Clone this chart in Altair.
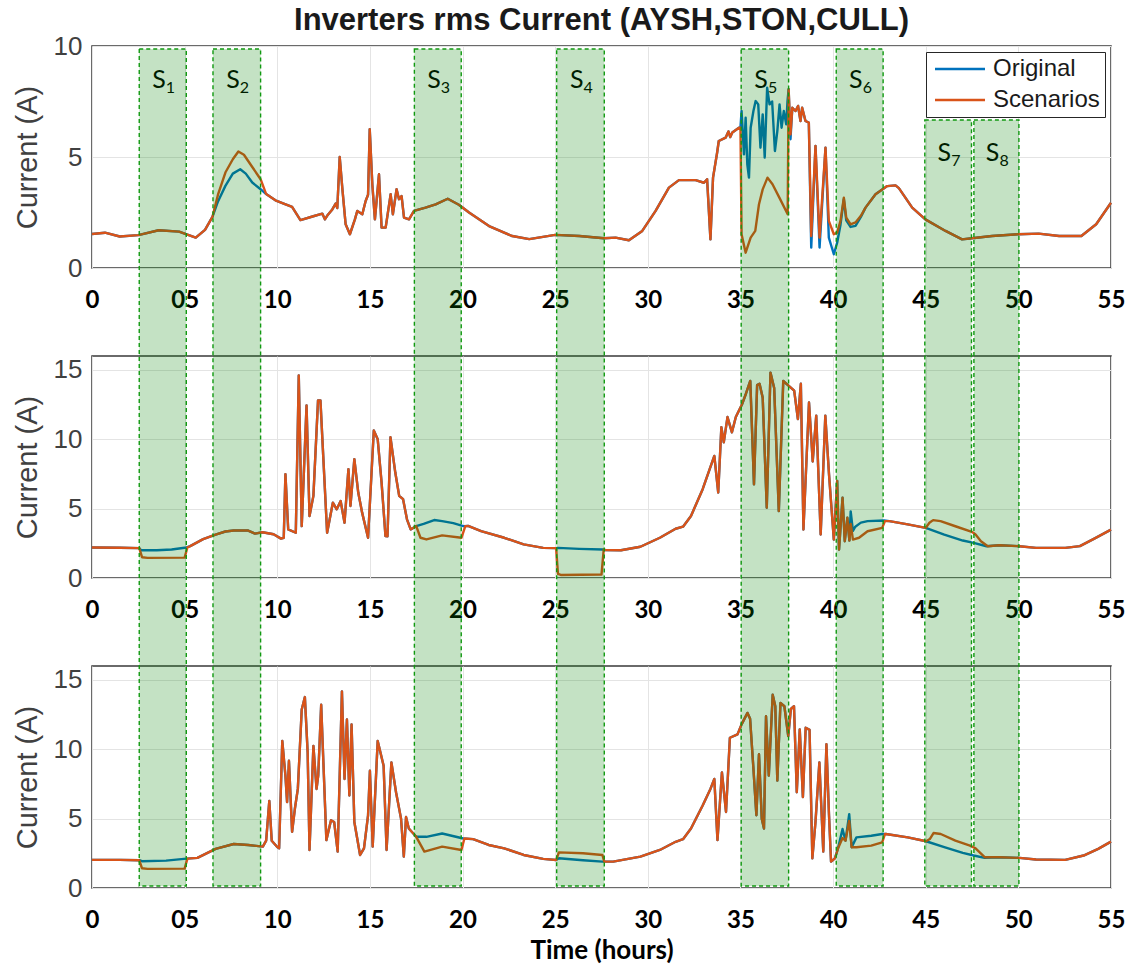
import altair as alt
import pandas as pd

# ---------------- data ----------------
X_TICKS = [0, 5, 10, 15, 20, 25, 30, 35, 40, 45, 50, 55]
SERIES = ["Original", "Scenarios"]
SERIES_COLORS = ["#0072BD", "#D95319"]

BAND_IDS = ["1", "2", "3", "4", "5", "6", "7", "8"]
BAND_START = [2.55, 6.53, 17.40, 25.08, 35.04, 40.17, 44.95, 47.60]
BAND_END = [5.09, 9.10, 19.93, 27.65, 37.60, 42.70, 47.47, 50.03]

# ---- AYSH (panel 1) ----
AYSH_COMMON_T = [0, 0.7, 1.5, 2.5, 3.6, 4.7, 5.6, 6.1, 6.5,
                 9.4, 9.9, 10.45, 10.8, 11.25, 11.9, 12.43, 12.57, 12.7, 12.97, 13.15, 13.24, 13.37, 13.51,
                 13.69, 13.92, 14.19, 14.32, 14.59, 14.77, 14.9, 14.99, 15.13, 15.27, 15.49, 15.63, 15.85,
                 16.12, 16.24, 16.44, 16.57, 16.71, 16.84, 17.11, 17.38, 18.0, 18.55, 19.2, 19.8, 20.35,
                 21.43, 22.68, 23.6, 25.0, 26.3, 27.63, 28.26, 28.98, 29.7, 30.42, 31.14, 31.68, 32.58,
                 33.03, 33.2, 33.38, 33.52, 33.74, 33.83, 34.2, 34.35, 34.45, 34.56, 34.92, 35.0,
                 41.75, 42.29, 42.92, 43.37, 43.55, 44.27, 44.98, 46.07, 46.96, 47.5, 48.58, 50.0, 51.1,
                 52.2, 53.4, 54.2, 55.0]
AYSH_COMMON_V = [1.53, 1.59, 1.42, 1.48, 1.70, 1.64, 1.37, 1.72, 2.30,
                 3.33, 3.05, 2.87, 2.75, 2.16, 2.32, 2.45, 2.19, 2.36, 2.64, 2.90, 2.70, 5.00, 3.60,
                 1.97, 1.52, 2.19, 2.57, 2.42, 3.02, 3.30, 6.25, 3.77, 2.19, 4.22, 1.82, 1.82,
                 3.32, 2.42, 3.55, 3.10, 3.24, 2.27, 2.19, 2.57, 2.72, 2.87, 3.12, 2.85, 2.50,
                 1.89, 1.44, 1.30, 1.49, 1.44, 1.34, 1.37, 1.25, 1.67, 2.57, 3.62, 3.96, 3.96,
                 3.84, 4.00, 1.29, 4.07, 5.19, 5.72, 5.87, 6.15, 5.90, 6.10, 6.32, 6.32,
                 2.72, 3.32, 3.69, 3.72, 3.60, 2.72, 2.19, 1.67, 1.29, 1.34, 1.44, 1.52, 1.55,
                 1.44, 1.44, 1.97, 2.94]
AYSH_ORIG_T = [6.8, 7.2, 7.6, 8.0, 8.3, 8.65, 9.1,
               35.06, 35.19, 35.28, 35.37, 35.46, 35.55, 35.7, 35.82, 35.96, 36.08, 36.2, 36.31, 36.44,
               36.57, 36.71, 36.86, 36.99, 37.11, 37.22, 37.34, 37.47, 37.54,
               37.6, 37.7, 37.8, 37.97, 38.11, 38.24, 38.33, 38.51, 38.69, 38.82, 39.05, 39.27, 39.59,
               39.77, 40.04, 40.22, 40.4, 40.58, 40.71, 40.94, 41.21, 41.5]
AYSH_ORIG_V = [3.0, 3.7, 4.25, 4.45, 4.25, 3.85, 3.55,
               7.07, 5.12, 6.77, 4.67, 4.07, 6.32, 7.07, 7.52, 7.37, 5.42, 6.92, 4.97, 8.12,
               7.37, 7.50, 5.27, 6.17, 7.37, 6.32, 7.07, 6.47, 7.52,
               8.05, 5.80, 7.22, 7.07, 7.30, 6.62, 7.22, 6.62, 6.55, 0.92, 5.50, 0.92, 5.42,
               1.37, 0.62, 1.14, 1.95, 3.10, 2.15, 1.85, 1.90, 2.30]
AYSH_SCEN_T = [6.8, 7.2, 7.6, 7.9, 8.2, 8.65, 9.1,
               35.06, 35.28, 35.55, 35.8, 36.0, 36.2, 36.46, 36.73, 37.1, 37.55,
               37.6, 37.7, 37.8, 37.97, 38.11, 38.24, 38.33, 38.51, 38.69, 38.82, 39.05, 39.27, 39.59,
               39.77, 40.04, 40.22, 40.4, 40.58, 40.71, 40.94, 41.21, 41.5]
AYSH_SCEN_V = [3.3, 4.3, 4.9, 5.25, 5.1, 4.55, 4.0,
               1.52, 0.69, 1.37, 1.67, 2.87, 3.54, 4.07, 3.77, 3.17, 2.42,
               8.05, 6.02, 7.22, 7.07, 7.30, 6.62, 7.22, 6.62, 6.55, 1.44, 5.50, 1.37, 5.42,
               2.12, 1.52, 1.59, 2.12, 3.17, 2.27, 1.97, 2.05, 2.35]

# ---- STON (panel 2) ----
STON_COMMON_T = [0, 1.5, 2.55,
                 5.3, 6.0, 6.67, 7.2, 7.65, 8.43, 8.8, 9.2, 9.8, 10.2, 10.35, 10.44, 10.59, 11.0, 11.16,
                 11.32, 11.58, 11.74, 11.95, 12.2, 12.33, 12.48, 12.69, 13.0, 13.21, 13.42, 13.63, 13.84,
                 13.95, 14.16, 14.37, 14.58, 14.9, 15.21, 15.42, 15.63, 15.84, 15.95, 16.11, 16.37, 16.58,
                 16.79, 17.0, 17.2, 17.5,
                 20.3, 21.0, 22.25, 23.3, 24.35, 25.05,
                 27.7, 28.55, 29.6, 30.65, 31.5, 31.9, 32.33, 32.96, 33.59, 33.8, 33.97, 34.1, 34.3, 34.54,
                 34.75, 35.08, 35.3, 35.53, 35.73, 35.9, 36.03, 36.2, 36.42, 36.62, 36.82, 37.07, 37.31,
                 37.61, 37.9, 38.1, 38.26, 38.4, 38.7, 38.9, 39.09, 39.33, 39.58, 39.78, 40.04, 40.22,
                 40.32, 40.51, 40.63, 40.77, 40.88,
                 43.04, 44.03, 45.0,
                 48.97, 50.06, 50.95, 52.53, 53.32, 54.1, 55.0]
STON_COMMON_V = [2.2, 2.18, 2.15,
                 2.3, 2.8, 3.13, 3.35, 3.42, 3.42, 3.2, 3.3, 3.15, 2.84, 2.9, 7.49, 3.5, 3.26, 14.6,
                 3.74, 12.44, 4.47, 5.92, 12.8, 12.8, 8.8, 3.26, 5.43, 4.95, 5.55, 3.98, 7.85,
                 5.19, 8.57, 6.16, 4.71, 2.9, 10.63, 10.0, 6.88, 3.02, 3.0, 10.14, 7.6, 5.92,
                 5.68, 4.23, 3.5, 3.74,
                 3.75, 3.38, 2.9, 2.42, 2.17, 2.15,
                 2.02, 2.0, 2.25, 2.9, 3.55, 3.7, 4.47, 6.4, 8.8, 6.16, 10.87, 9.78, 11.6, 10.5,
                 11.6, 12.5, 13.3, 14.2, 6.75, 13.9, 14.0, 13.0, 5.06, 14.8, 13.7, 4.82, 14.2,
                 13.85, 13.5, 11.45, 14.0, 3.5, 12.65, 8.4, 11.7, 3.13, 11.7, 7.47, 2.77, 7.0,
                 2.05, 5.78, 2.65, 4.34, 2.7,
                 4.1, 3.86, 3.61,
                 2.36, 2.29, 2.17, 2.17, 2.3, 2.84, 3.49]
STON_ORIG_T = [2.65, 3.5, 4.3, 5.1, 17.9, 18.47, 18.9, 19.5, 20.04, 25.15, 26.3, 27.55,
               40.95, 41.07, 41.2, 41.5, 41.86, 42.75, 46.0, 47.0, 47.59, 48.28]
STON_ORIG_V = [2.0, 2.0, 2.05, 2.2, 3.9, 4.18, 4.1, 3.95, 3.74, 2.17, 2.1, 2.05,
               4.8, 3.4, 3.7, 3.99, 4.1, 4.14, 3.13, 2.7, 2.53, 2.29]
STON_SCEN_T = [2.7, 3.0, 5.0, 5.15, 17.73, 18.05, 18.9, 19.94, 20.15, 25.15, 25.3, 27.5, 27.62,
               40.95, 41.07, 41.4, 41.86, 42.65, 42.8, 45.2, 45.4, 45.8, 46.6, 47.49, 47.69, 47.98, 48.35]
STON_SCEN_V = [1.5, 1.45, 1.47, 2.2, 2.9, 2.78, 3.07, 2.9, 3.74, 0.3, 0.22, 0.25, 2.05,
               3.9, 2.77, 2.9, 3.37, 3.61, 4.1, 3.98, 4.17, 4.1, 3.73, 3.33, 3.13, 2.65, 2.29]

# ---- CULL (panel 3) ----
CULL_COMMON_T = [0, 1.5, 2.55,
                 5.69, 6.67, 7.65, 8.43, 9.22, 9.4, 9.57, 9.7, 10.0, 10.1, 10.27, 10.44, 10.53, 10.63,
                 10.8, 10.95, 11.11, 11.32, 11.49, 11.64, 11.74, 11.95, 12.12, 12.21, 12.37, 12.65, 12.9,
                 13.07, 13.26, 13.49, 13.63, 13.76, 13.89, 14.01, 14.16, 14.47, 14.68, 14.9, 15.0, 15.15,
                 15.42, 15.74, 15.9, 16.16, 16.41, 16.68, 16.83, 16.95, 17.1, 17.5,
                 20.57, 21.41, 22.25, 23.3, 24.35, 25.05,
                 27.7, 28.13, 29.6, 30.65, 31.5, 31.9, 32.33, 32.96, 33.38, 33.59, 33.76, 34.0, 34.22,
                 34.43, 34.84, 35.06, 35.38, 35.52, 35.69, 35.86, 36.0, 36.15, 36.27, 36.38, 36.53, 36.74,
                 36.88, 36.99, 37.16, 37.37, 37.58, 37.72, 37.89, 38.04, 38.2, 38.37, 38.52, 38.73, 38.88,
                 39.05, 39.26, 39.47, 39.64, 39.78, 39.89, 40.1,
                 42.85, 44.03, 45.02,
                 48.97, 50.06, 50.95, 52.53, 53.52, 54.31, 55.0]
CULL_COMMON_V = [2.03, 2.03, 2.0,
                 2.17, 2.82, 3.17, 3.1, 2.98, 3.41, 6.28, 3.41, 2.95, 2.86, 10.6, 8.1, 6.19, 9.17,
                 4.05, 5.71, 7.14, 12.86, 13.76, 9.76, 2.74, 10.24, 7.14, 8.1, 13.21, 3.45, 4.88,
                 4.76, 2.62, 14.17, 7.86, 12.14, 6.67, 11.79, 4.76, 2.38, 2.86, 5.24, 8.45, 2.98,
                 10.6, 8.81, 2.74, 9.05, 6.9, 5.0, 2.26, 5.12, 4.29, 3.69,
                 3.52, 3.1, 2.86, 2.38, 2.1, 2.02,
                 1.9, 1.9, 2.26, 2.74, 3.33, 3.52, 4.29, 5.95, 7.14, 7.86, 3.45, 8.33, 5.48,
                 10.83, 11.07, 11.79, 12.62, 12.2, 8.81, 5.24, 9.64, 5.0, 4.29, 12.38, 8.1, 13.93,
                 13.1, 7.74, 13.33, 13.1, 10.95, 12.9, 13.1, 6.9, 11.43, 6.55, 11.55, 11.4, 2.14,
                 4.76, 9.05, 2.62, 10.36, 5.24, 1.9, 2.14,
                 3.89, 3.65, 3.37,
                 2.22, 2.17, 2.05, 2.03, 2.34, 2.82, 3.34]
CULL_ORIG_T = [2.7, 4.0, 5.1, 18.05, 18.9, 20.04, 25.2, 26.5, 27.55,
               40.28, 40.51, 40.67, 40.87, 41.0, 41.26, 42.06, 42.65, 46.0, 47.0, 47.59, 48.18]
CULL_ORIG_V = [1.93, 1.97, 2.12, 3.69, 3.93, 3.57, 2.14, 2.0, 1.9,
               2.94, 4.25, 3.41, 5.32, 2.94, 3.65, 3.77, 3.89, 2.94, 2.53, 2.34, 2.17]
CULL_SCEN_T = [2.7, 3.0, 5.0, 5.15, 17.94, 18.9, 19.94, 20.1, 25.2, 26.5, 27.55, 27.65,
               40.28, 40.51, 40.67, 40.87, 41.0, 41.26, 42.06, 42.65, 42.8,
               45.22, 45.42, 45.81, 46.6, 47.39, 47.69, 48.18]
CULL_SCEN_V = [1.42, 1.38, 1.4, 2.12, 2.62, 2.98, 2.74, 3.57, 2.57, 2.5, 2.38, 1.9,
               2.9, 3.6, 3.41, 4.84, 2.94, 2.94, 3.05, 3.29, 3.89,
               3.53, 3.96, 3.89, 3.41, 3.05, 2.86, 2.22]


def build(ct, cv, ot, ov, st, sv):
    rows = []
    for name, bt, bv in ((SERIES[0], ot, ov), (SERIES[1], st, sv)):
        pts = sorted(zip(list(ct) + list(bt), list(cv) + list(bv)))
        for i, (t, v) in enumerate(pts):
            rows.append({"series": name, "t": t, "current": v, "idx": i})
    return pd.DataFrame(rows)


df1 = build(AYSH_COMMON_T, AYSH_COMMON_V, AYSH_ORIG_T, AYSH_ORIG_V, AYSH_SCEN_T, AYSH_SCEN_V)
df2 = build(STON_COMMON_T, STON_COMMON_V, STON_ORIG_T, STON_ORIG_V, STON_SCEN_T, STON_SCEN_V)
df3 = build(CULL_COMMON_T, CULL_COMMON_V, CULL_ORIG_T, CULL_ORIG_V, CULL_SCEN_T, CULL_SCEN_V)

bands = pd.DataFrame({"id": BAND_IDS, "t": BAND_START, "t2": BAND_END})
bands["tc"] = (bands["t"] + bands["t2"]) / 2

# ---------------- layout ----------------
W, H = 1019, 222
GAP = 88
P3_TO_P1 = 2 * (H + GAP)          # offset of panel 3 top from panel 1 top
BAND_TOP = 3                      # relative to panel 1 top
BAND_TOP_LOW = 74
BAND_BOTTOM = H - 2               # relative to panel 3 top

LINE_W = 2.4
FONT_TICK_X = "Lato"
FONT_MATLAB = "Liberation Sans"


def x_enc(title=None, field="t"):
    return alt.X(f"{field}:Q",
                 scale=alt.Scale(domain=[0, 55], nice=False, zero=False),
                 axis=alt.Axis(values=X_TICKS,
                               labelExpr="datum.value == 5 ? '05' : datum.label",
                               title=title))


def panel(df, ymax, yticks, legend, xtitle=None):
    y = alt.Y("current:Q", scale=alt.Scale(domain=[0, ymax], nice=False),
              axis=alt.Axis(values=yticks, title="Current (A)"))
    color = alt.Color("series:N",
                      scale=alt.Scale(domain=SERIES, range=SERIES_COLORS),
                      legend=legend)
    base = alt.Chart(df)
    orig = base.transform_filter(alt.datum.series == SERIES[0]).mark_line(
        strokeWidth=LINE_W, strokeJoin="round").encode(
        x=x_enc(xtitle), y=y, color=color, order="idx:Q")
    scen = base.transform_filter(alt.datum.series == SERIES[1]).mark_line(
        strokeWidth=LINE_W, strokeJoin="round").encode(
        x=x_enc(xtitle), y=y, color=color, order="idx:Q")
    return orig, scen


legend = alt.Legend(orient="top-right", offset=6, title=None, symbolType="M-1,0H4",
                    symbolSize=400, symbolStrokeWidth=2.5, labelFontSize=24,
                    labelFont=FONT_MATLAB, labelColor="#1a1a1a", strokeColor="#262626",
                    fillColor="white", padding=5, rowPadding=7, labelOffset=36,
                    symbolOffset=2, cornerRadius=0)

o1, s1 = panel(df1, 10, [0, 5, 10], legend)
o2, s2 = panel(df2, 16, [0, 5, 10, 15], None)
o3, s3 = panel(df3, 16, [0, 5, 10, 15], None, xtitle="Time (hours)")

# scenario labels (S with subscript) in panel 1
lab_hi = bands[~bands["id"].isin(["7", "8"])]
lab_lo = bands[bands["id"].isin(["7", "8"])]


def labels(data, y):
    s = alt.Chart(data).transform_calculate(txt="'S'").mark_text(
        font=FONT_TICK_X, fontSize=25, color="black", align="right", baseline="alphabetic",
        dx=3).encode(x=x_enc(None, "tc"), y=alt.value(y), text="txt:N")
    sub = alt.Chart(data).mark_text(
        font=FONT_TICK_X, fontSize=16, color="black", align="left", baseline="alphabetic",
        dx=3).encode(x=x_enc(None, "tc"), y=alt.value(y + 5), text="id:N")
    return s + sub


title = alt.TitleParams("Inverters rms Current (AYSH,STON,CULL)", font=FONT_MATLAB,
                        fontSize=31, fontWeight="bold", color="#1a1a1a", anchor="middle",
                        frame="group", offset=-4)

p1 = alt.layer(o1, s1, labels(lab_hi, 42), labels(lab_lo, 115)).properties(
    width=W, height=H, title=title)
p2 = alt.layer(o2, s2).properties(width=W, height=H)

band_style = dict(fill="#008000", fillOpacity=0.23, stroke="#119911", strokeDash=[4, 3],
                  strokeWidth=1.4)
bands_hi = alt.Chart(bands).transform_filter("datum.id != '7' && datum.id != '8'").mark_rect(
    **band_style).encode(x=x_enc("Time (hours)"), x2="t2:Q",
                         y=alt.value(BAND_TOP - P3_TO_P1), y2=alt.value(BAND_BOTTOM))
bands_lo = alt.Chart(bands).transform_filter("datum.id == '7' || datum.id == '8'").mark_rect(
    **band_style).encode(x=x_enc("Time (hours)"), x2="t2:Q",
                         y=alt.value(BAND_TOP_LOW - P3_TO_P1), y2=alt.value(BAND_BOTTOM))
p3 = alt.layer(o3, s3, bands_hi, bands_lo).properties(width=W, height=H)

chart = alt.vconcat(p1, p2, p3, spacing=GAP, bounds="flush").resolve_scale(
    color="independent"
).properties(
    padding={"left": 12, "top": 4, "right": 5, "bottom": 5},
    background="white"
).configure_view(
    stroke="#3a3a3a", strokeWidth=1.5
).configure_axisX(
    labelFont=FONT_TICK_X, labelFontWeight="bold", labelFontSize=24, labelColor="black",
    ticks=False, domain=False, grid=True, gridColor="#e4e4e4", gridWidth=1,
    labelPadding=20, labelFlush=False, labelOverlap=False,
    titleFont=FONT_TICK_X, titleFontSize=26, titleFontWeight="bold", titleColor="black",
    titlePadding=5
).configure_axisY(
    labelFont=FONT_MATLAB, labelFontSize=26, labelColor="#404040",
    ticks=False, domain=False, grid=True, gridColor="#e4e4e4", gridWidth=1,
    labelPadding=10, labelFlush=False,
    titleFont=FONT_MATLAB, titleFontSize=29, titleFontWeight="normal", titleColor="#404040",
    titlePadding=11
)

chart.save("out.html", embed_options={"renderer": "svg", "actions": False})
